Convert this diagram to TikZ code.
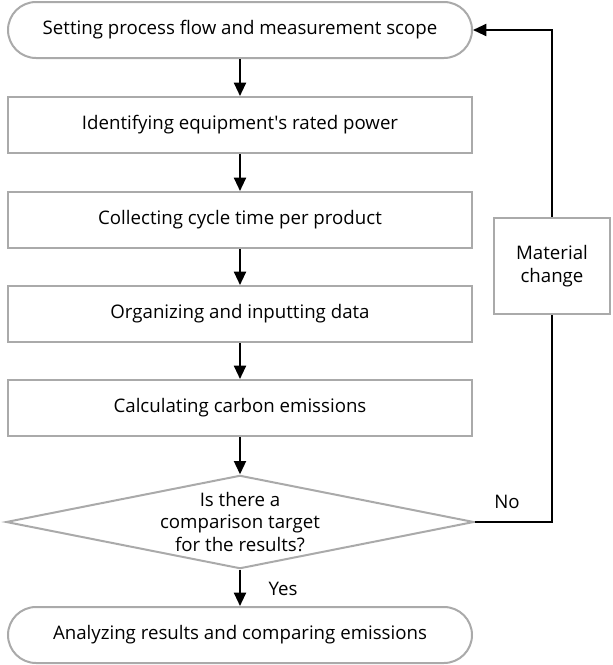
\documentclass[tikz,border=0pt]{standalone}
\usepackage{fontspec}
\setmainfont{Open Sans}
\usetikzlibrary{shapes.geometric,arrows.meta}
\definecolor{boxgray}{RGB}{170,170,170}
\tikzset{
  stepbox/.style={draw=boxgray,line width=1.5pt,fill=white,minimum width=348pt,minimum height=42pt,inner sep=0pt},
  endbox/.style={stepbox,rounded corners=21pt},
  decbox/.style={diamond,draw=boxgray,line width=1.5pt,fill=white,minimum width=351pt,minimum height=70pt,inner sep=0pt},
  sidebox/.style={draw=boxgray,line width=1.5pt,fill=white,minimum width=87pt,minimum height=72pt,inner sep=0pt,align=center},
  flow/.style={line width=1.5pt,-{Triangle[length=10pt,width=9pt]}},
  plain/.style={line width=1.5pt},
  lbl/.style={inner sep=0pt,align=center}
}
\begin{document}
\begin{tikzpicture}[x=0.75pt,y=0.75pt,yscale=-1,xscale=1,font=\fontsize{14}{17}\selectfont]
\useasboundingbox (0,0) rectangle (612,665);

% steps
\node[endbox] (scope) at (240,30) {Setting process flow and measurement scope};
\node[stepbox] (power) at (240,125) {Identifying equipment\textquotesingle s rated power};
\node[stepbox] (cycle) at (240,220) {Collecting cycle time per product};
\node[stepbox] (input) at (240,314) {Organizing and inputting data};
\node[stepbox] (calc) at (240,408) {Calculating carbon emissions};
\node[decbox] (target) at (240,522) {};
\node[lbl] (question) at (target) {Is there a\\comparison target\\for the results?};
\node[endbox] (analyze) at (240,635) {Analyzing results and comparing emissions};
\node[sidebox] (material) at (552,266) {Material\\change};

% labels
\node[lbl] (yes) at (283,589) {Yes};
\node[lbl] (no) at (507,502) {No};

% arrows
\draw[flow] (scope) -- (power);
\draw[flow] (power) -- (cycle);
\draw[flow] (cycle) -- (input);
\draw[flow] (input) -- (calc);
\draw[flow] (calc) -- (target);
\draw[flow] (target) -- (analyze);
\draw[plain] (target.east) -| (material.south);
\draw[flow] (material.north) |- (scope.east);

\end{tikzpicture}
\end{document}
